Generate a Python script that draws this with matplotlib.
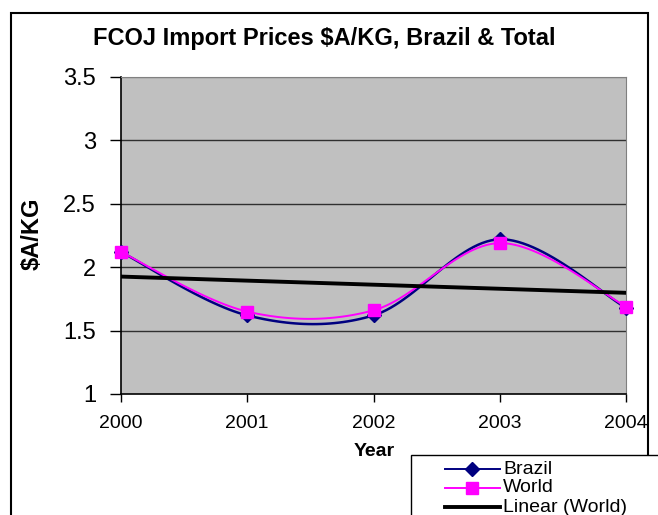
import matplotlib
matplotlib.use('Agg')
import matplotlib.pyplot as plt
import numpy as np
from matplotlib.lines import Line2D
from matplotlib.patches import Rectangle

plt.rcParams['font.family'] = ['Liberation Sans', 'DejaVu Sans']

# Data
years = [2000, 2001, 2002, 2003, 2004]
brazil = [2.12, 1.62, 1.62, 2.22, 1.68]
world = [2.12, 1.65, 1.66, 2.19, 1.69]
series_names = ['Brazil', 'World', 'Linear (World)']

NAVY = '#000080'
MAGENTA = '#FF00FF'
W, H = 658, 515


def smooth(xs, ys, n=30):
    """Excel-like smoothed line (Catmull-Rom as cubic Bezier)."""
    p = np.column_stack([xs, ys]).astype(float)
    p = np.vstack([p[0], p, p[-1]])
    out = []
    t = np.linspace(0, 1, n)[:, None]
    for i in range(1, len(p) - 2):
        p0, p1, p2, p3 = p[i - 1], p[i], p[i + 1], p[i + 2]
        c1 = p1 + (p2 - p0) / 6
        c2 = p2 - (p3 - p1) / 6
        seg = ((1 - t) ** 3) * p1 + 3 * ((1 - t) ** 2) * t * c1 \
            + 3 * (1 - t) * t ** 2 * c2 + t ** 3 * p2
        out.append(seg if i == 1 else seg[1:])
    out = np.vstack(out)
    return out[:, 0], out[:, 1]


def fx(px):
    return px / W


def fy(py):
    return 1 - py / H


fig = plt.figure(figsize=(6.58, 5.15), dpi=100)
ax = fig.add_axes([fx(121), fy(394), (626 - 121) / W, (394 - 77) / H])
ax.set_facecolor('#C0C0C0')

# outer chart border
fig.patches.append(Rectangle((fx(11), -0.1), (648 - 11) / W, 1.1 - 13 / H,
                             transform=fig.transFigure, fill=False,
                             edgecolor='black', linewidth=1.5))

for v in [1.5, 2, 2.5, 3]:
    ax.axhline(v, color='#303030', linewidth=1, zorder=1)
ax.axhline(3.5, color='#808080', linewidth=1, zorder=1)

bx, by = smooth(years, brazil)
ax.plot(bx, by, color=NAVY, linewidth=1.8, zorder=3)
ax.plot(years, brazil, linestyle='none', marker='D', markersize=7,
        color=NAVY, zorder=4, clip_on=False)

wx, wy = smooth(years, world)
ax.plot(wx, wy, color=MAGENTA, linewidth=1.4, zorder=3)
ax.plot(years, world, linestyle='none', marker='s', markersize=9,
        color=MAGENTA, zorder=5, clip_on=False)

# linear trendline of World
m, c = np.polyfit(years, world, 1)
tx = np.array([years[0], years[-1]])
ax.plot(tx, m * tx + c, color='black', linewidth=2.8, zorder=3)

ax.set_xlim(2000, 2004)
ax.set_ylim(1, 3.5)
ax.set_xticks(years)
ax.set_xticklabels([str(y) for y in years], fontsize=14)
ax.set_yticks([1, 1.5, 2, 2.5, 3, 3.5])
ax.set_yticklabels(['1', '1.5', '2', '2.5', '3', '3.5'], fontsize=17)
ax.tick_params(axis='x', direction='out', length=6, width=1, color='black', pad=9)
ax.tick_params(axis='y', direction='out', length=8, width=1, color='black', pad=10)
for side in ['top', 'right']:
    ax.spines[side].set_color('#808080')
for side in ['left', 'bottom']:
    ax.spines[side].set_color('black')
    ax.spines[side].set_linewidth(1.2)

fig.text(fx(374), fy(451), 'Year', ha='center', va='center',
         fontsize=14, fontweight='bold')
fig.text(fx(32), fy(234), '$A/KG', ha='center', va='center', rotation=90,
         fontsize=17, fontweight='bold')
fig.text(fx(324), fy(39), 'FCOJ Import Prices $A/KG, Brazil & Total',
         ha='center', va='center', fontsize=17, fontweight='bold')

# legend box (Excel style, runs off the canvas)
fig.patches.append(Rectangle((fx(411), -0.1), 1.0, fy(455) + 0.1,
                             transform=fig.transFigure, facecolor='white',
                             edgecolor='black', linewidth=1, zorder=10))
colors = [NAVY, MAGENTA, 'black']
widths = [1.4, 1.4, 2.8]
markers = [('D', 7), ('s', 9), (None, 0)]
rows = [469, 488, 507]
for name, col, lw, (mk, ms), ry in zip(series_names, colors, widths, markers, rows):
    fig.add_artist(Line2D([fx(445), fx(500)], [fy(ry), fy(ry)], color=col,
                          linewidth=lw, transform=fig.transFigure, zorder=11))
    if mk:
        fig.add_artist(Line2D([fx(472)], [fy(ry)], transform=fig.transFigure,
                              zorder=12, linestyle='none', color=col,
                              marker=mk, markersize=ms))
    fig.text(fx(503), fy(ry), name, ha='left', va='center', fontsize=14,
             zorder=13)

fig.savefig('out.png', dpi=100)
